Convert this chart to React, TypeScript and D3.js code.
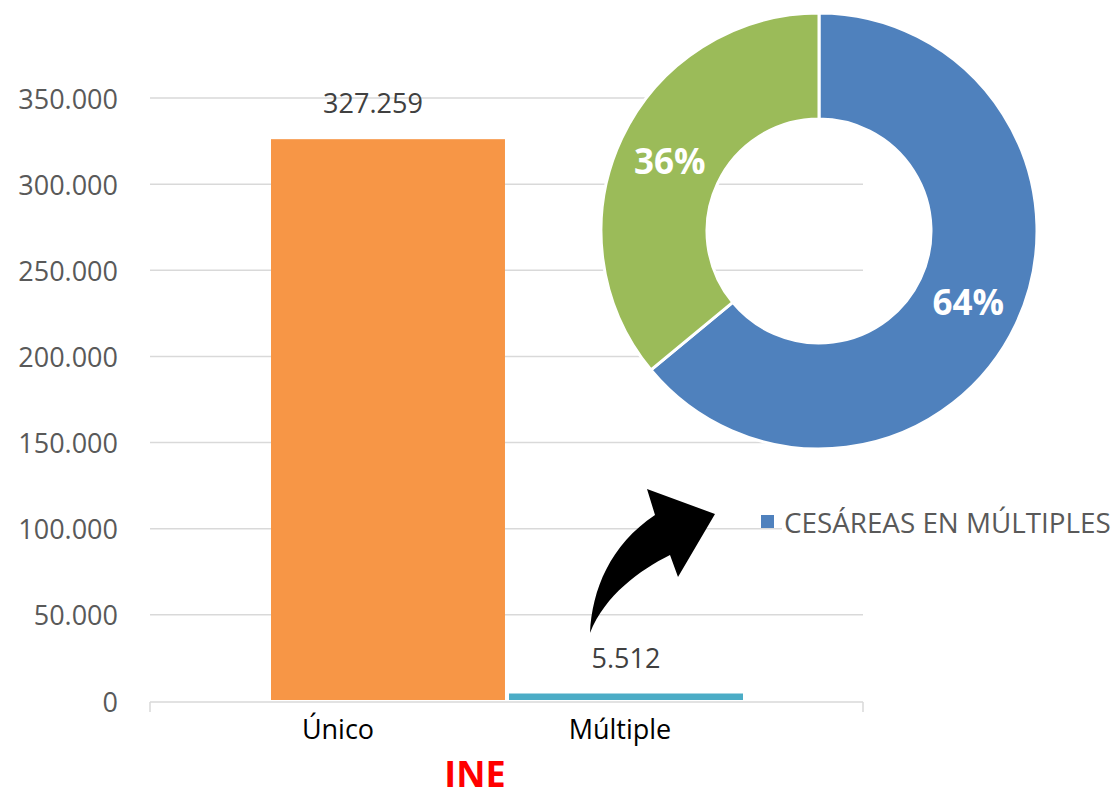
import { useMemo } from 'react';
import * as d3 from 'd3';

// bar chart data
const categories = ['Único', 'Múltiple'];
const barValues = [327259, 5512];
const barColors = ['#f79646', '#4bacc6'];
const yTicks = [0, 50000, 100000, 150000, 200000, 250000, 300000, 350000];

// donut data
const pieNames = ['CESÁREAS EN MÚLTIPLES', 'CESÁREAS EN ÚNICOS'];
const pieValues = [64, 36];
const pieColors = ['#4f81bd', '#9bbb59'];

const W = 1118;
const H = 799;
const FONT = '"Open Sans", "Noto Sans", sans-serif';

const fmt = (v: number) => d3.format(',')(v).replace(/,/g, '.');

export default function App() {
  const plot = { left: 150, right: 863, top: 98, bottom: 701 };

  const y = d3.scaleLinear().domain([0, 350000]).range([plot.bottom, plot.top]);
  const x = d3.scaleBand<string>().domain(categories).range([271, 743]).paddingInner(0.017);
  const xLabel = d3.scalePoint<string>().domain(categories).range([338, 620]);

  const pie = useMemo(() => d3.pie<number>().sort(null).startAngle(0).endAngle(Math.PI * 2)(pieValues), []);
  const cx = 819;
  const cy = 231;
  const rOuter = 218;
  const rInner = 112;
  const arc = d3.arc<d3.PieArcDatum<number>>().innerRadius(rInner).outerRadius(rOuter);
  const labelArc = d3.arc<d3.PieArcDatum<number>>().innerRadius(165).outerRadius(165);
  const total = d3.sum(pieValues);

  // curved arrow (decoration)
  const arrowPath =
    'M590,633 C592,590 610,545 655,515 L647,489 L715,514 L678,577 L670,555 C640,570 605,595 590,633 Z';

  return (
    <svg width={W} height={H} style={{ position: 'absolute', left: 0, top: 0, background: '#fff' }}>
      {/* gridlines */}
      {yTicks.slice(1).map((t) => (
        <line key={t} x1={plot.left} x2={plot.right} y1={y(t)} y2={y(t)} stroke="#d9d9d9" strokeWidth={1.5} />
      ))}
      {/* y labels */}
      {yTicks.map((t) => (
        <text
          key={t}
          x={118}
          y={y(t)}
          textAnchor="end"
          dominantBaseline="central"
          fontFamily={FONT}
          fontSize={27}
          fill="#595959"
        >
          {fmt(t)}
        </text>
      ))}
      {/* bars */}
      {categories.map((c, i) => (
        <rect
          key={c}
          x={x(c)}
          y={y(barValues[i]) + 2}
          width={x.bandwidth()}
          height={y(0) - y(barValues[i]) - 3}
          fill={barColors[i]}
        />
      ))}
      {/* x axis */}
      <line x1={plot.left} x2={plot.right} y1={y(0) + 1} y2={y(0) + 1} stroke="#d9d9d9" strokeWidth={1.5} />
      <line x1={plot.left} x2={plot.left} y1={y(0) + 1} y2={y(0) + 11} stroke="#d9d9d9" strokeWidth={1.5} />
      <line x1={plot.right} x2={plot.right} y1={y(0) + 1} y2={y(0) + 11} stroke="#d9d9d9" strokeWidth={1.5} />
      {categories.map((c) => (
        <text
          key={c}
          x={xLabel(c)}
          y={728}
          textAnchor="middle"
          dominantBaseline="central"
          fontFamily={FONT}
          fontSize={27}
          fill="#000"
        >
          {c}
        </text>
      ))}
      {/* value labels */}
      {categories.map((c, i) => (
        <text
          key={c}
          x={(x(c) ?? 0) + x.bandwidth() / 2 - (i === 0 ? 15 : 0)}
          y={y(barValues[i]) - 24}
          textAnchor="middle"
          fontFamily={FONT}
          fontSize={27}
          fill="#404040"
        >
          {fmt(barValues[i])}
        </text>
      ))}

      {/* donut */}
      <g transform={`translate(${cx},${cy})`}>
        {pie.map((d, i) => (
          <path key={i} d={arc(d) ?? ''} fill={pieColors[i]} stroke="#fff" strokeWidth={3} />
        ))}
        {pie.map((d, i) => {
          const [lx, ly] = labelArc.centroid(d);
          return (
            <text
              key={i}
              x={lx}
              y={ly}
              textAnchor="middle"
              dominantBaseline="central"
              fontFamily={FONT}
              fontWeight="bold"
              fontSize={35}
              fill="#fff"
            >
              {Math.round((d.value / total) * 100)}%
            </text>
          );
        })}
      </g>

      {/* legend */}
      <rect x={782} y={505} width={336} height={34} fill="#fff" />
      <rect x={761} y={515} width={13} height={13} fill={pieColors[0]} />
      <text x={784} y={522} dominantBaseline="central" fontFamily={FONT} fontSize={27.8} fill="#595959">
        {pieNames[0]}
      </text>

      {/* arrow */}
      <path d={arrowPath} fill="#000" />

      {/* source */}
      <text x={475} y={787} textAnchor="middle" fontFamily={FONT} fontWeight="bold" fontSize={36} fill="#ff0000">
        INE
      </text>
    </svg>
  );
}
